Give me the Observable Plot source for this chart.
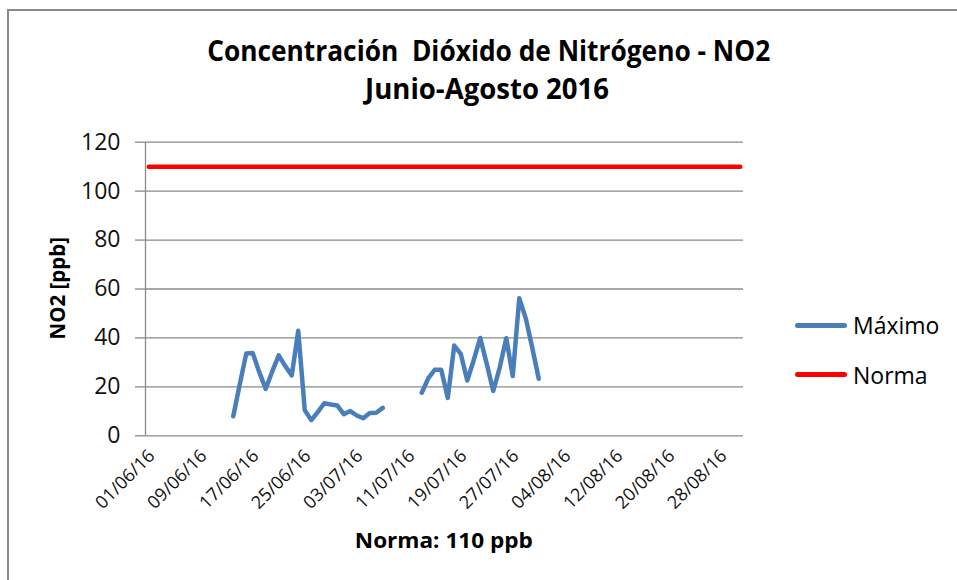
<!DOCTYPE html>
<html><head><meta charset="utf-8">
<script src="https://cdn.jsdelivr.net/npm/d3@7"></script>
<script src="https://cdn.jsdelivr.net/npm/@observablehq/plot@0.6"></script>
<style>
body{margin:0;background:#fff;font-family:"Open Sans",sans-serif;}
#wrap{position:relative;width:957px;height:580px;overflow:hidden;background:#fff;}
#border{position:absolute;left:7px;top:9px;width:980px;height:600px;border-left:2px solid #8a8a8a;border-top:2px solid #8a8a8a;}
.t{position:absolute;white-space:pre;line-height:1;color:#000;}
.b{font-weight:700;}
#plot{position:absolute;left:0;top:0;}
.sw{position:absolute;height:5px;border-radius:3px;}
</style></head><body>
<div id="wrap">
  <div id="border"></div>
  <div id="plot"></div>
  <div class="t b" id="t1">Concentración  Dióxido de Nitrógeno - NO2</div>
  <div class="t b" id="t2">Junio-Agosto 2016</div>
  <div class="t b" id="ylab">NO2 [ppb]</div>
  <div class="t b" id="xlab">Norma: 110 ppb</div>
  <div class="sw" id="sw1"></div>
  <div class="t" id="lg1">Máximo</div>
  <div class="sw" id="sw2"></div>
  <div class="t" id="lg2">Norma</div>
</div>
<script>
// ---- data ----
const fechas = [
  "2016-06-14","2016-06-15","2016-06-16","2016-06-17","2016-06-18","2016-06-19","2016-06-20","2016-06-21",
  "2016-06-22","2016-06-23","2016-06-24","2016-06-25","2016-06-26","2016-06-27","2016-06-28","2016-06-29",
  "2016-06-30","2016-07-01","2016-07-02","2016-07-03","2016-07-04","2016-07-05","2016-07-06","2016-07-07",
  "2016-07-08","2016-07-09","2016-07-10","2016-07-11","2016-07-12",
  "2016-07-13","2016-07-14","2016-07-15","2016-07-16","2016-07-17","2016-07-18","2016-07-19","2016-07-20",
  "2016-07-21","2016-07-22","2016-07-23","2016-07-24","2016-07-25","2016-07-26","2016-07-27","2016-07-28",
  "2016-07-29","2016-07-30","2016-07-31"
];
const maximo = [
  8, 21, 33.6, 33.8, 26, 19.2, 26.3, 32.9,
  28.5, 24.7, 42.9, 10.5, 6.4, 9.7, 13.3, 12.8,
  12.4, 8.8, 10.1, 8.3, 7.2, 9.3, 9.4, 11.4,
  null, null, null, null, null,
  17.6, 23.5, 27, 27, 15.5, 36.9, 33.5, 22.6,
  31, 40, 29.4, 18.3, 28, 39.9, 24.4, 56.2,
  48, 36, 23.3
];
const normaFechas = ["2016-06-01","2016-08-31"];
const normaValores = [110, 110];
const ticksFecha = ["2016-06-01","2016-06-09","2016-06-17","2016-06-25","2016-07-03","2016-07-11",
  "2016-07-19","2016-07-27","2016-08-04","2016-08-12","2016-08-20","2016-08-28"];
const ticksY = [0, 20, 40, 60, 80, 100, 120];
const xDominio = ["2016-05-31T12:00Z", "2016-08-31T12:00Z"];

const serieMax = fechas.map((f, i) => ({fecha: new Date(f), valor: maximo[i]}));
const serieNorma = normaFechas.map((f, i) => ({fecha: new Date(f), valor: normaValores[i]}));

const AZUL = "#4A7EBB", ROJO = "#FF0000", GRIS = "#8a8a8a";

const chart = Plot.plot({
  width: 957, height: 580,
  marginLeft: 145, marginRight: 214, marginTop: 141.7, marginBottom: 144.7,
  style: {fontFamily: "'Open Sans', sans-serif", background: "transparent", overflow: "visible", color: "#000"},
  x: {type: "utc", domain: xDominio.map(d => new Date(d))},
  y: {domain: [0, 120]},
  marks: [
    Plot.gridY(ticksY, {stroke: GRIS, strokeOpacity: 1, strokeWidth: 1.3}),
    Plot.ruleX([new Date(xDominio[0])], {stroke: GRIS, strokeWidth: 1.3}),
    Plot.axisY(ticksY, {tickSize: 10, tickPadding: 15, fontSize: 23, stroke: GRIS, strokeWidth: 1.3, fill: "#111", label: null}),
    Plot.axisX(ticksFecha.map(d => new Date(d)), {tickSize: 0, tickPadding: 17, tickRotate: -45, fontSize: 18, fill: "#111",
      dx: 3, tickFormat: d3.utcFormat("%d/%m/%y"), label: null}),
    Plot.line(serieNorma, {x: "fecha", y: "valor", stroke: ROJO, strokeWidth: 4.5, strokeLinecap: "round"}),
    Plot.line(serieMax, {x: "fecha", y: "valor", stroke: AZUL, strokeWidth: 4.5, strokeLinejoin: "round", strokeLinecap: "round"})
  ]
});
document.getElementById("plot").appendChild(chart);

// ---- text placement ----
function place(id, x, baseline, fs, opts = {}) {
  const el = document.getElementById(id);
  el.style.fontSize = fs + "px";
  el.style.top = (baseline - 0.888 * fs) + "px";
  const w = el.getBoundingClientRect().width;
  const k = opts.width ? opts.width / w : 1;
  if (opts.align === "left") el.style.left = x + "px";
  else el.style.left = (x - w / 2) + "px";
  el.style.transformOrigin = opts.align === "left" ? "left center" : "center center";
  el.style.transform = `scaleX(${k})`;
}
place("t1", 488.5, 61, 28, {width: 563});
place("t2", 487, 99, 28, {width: 244});
place("xlab", 444, 548, 22, {width: 178});
place("lg1", 853, 334, 23, {align: "left"});
place("lg2", 853, 384, 23, {align: "left"});

const yl = document.getElementById("ylab");
yl.style.fontSize = "20.5px";
const yw = yl.getBoundingClientRect().width;
yl.style.left = (57 - yw / 2) + "px";
yl.style.top = (288.5 - 10.25) + "px";
yl.style.transform = "rotate(-90deg)";
yl.style.transformOrigin = "center center";

function sw(id, color, y) {
  const s = document.getElementById(id);
  s.style.background = color;
  s.style.left = "795px";
  s.style.width = "52px";
  s.style.top = (y - 2.5) + "px";
}
sw("sw1", AZUL, 325);
sw("sw2", ROJO, 374.3);
</script>
</body></html>
